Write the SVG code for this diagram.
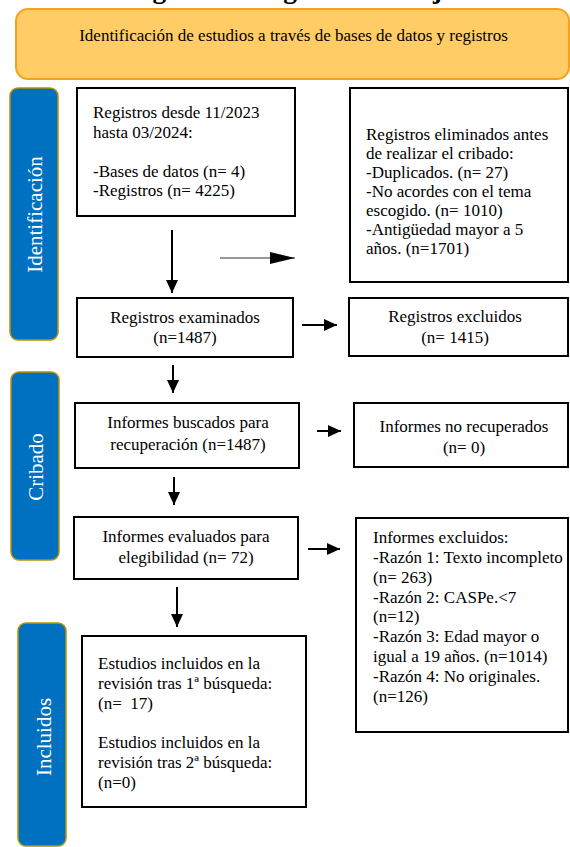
<svg xmlns="http://www.w3.org/2000/svg" width="570" height="847" viewBox="0 0 570 847">
<style>
.t{font-family:"Liberation Serif","Times New Roman",serif;font-size:17px;fill:#000}
.c{text-anchor:middle}
.box{fill:#fff;stroke:#000;stroke-width:2}
.side{fill:#0070C0;stroke:#BF9000;stroke-width:1.5}
.st{font-family:"Liberation Serif","Times New Roman",serif;font-size:21px;fill:#fff;text-anchor:middle}
.ln{stroke:#000;stroke-width:2;fill:none}
</style>
<defs>
<marker id="ah" markerUnits="userSpaceOnUse" markerWidth="13" markerHeight="12" refX="13" refY="6" orient="auto">
<path d="M0,0 L13,6 L0,12 z" fill="#000"/>
</marker>
<marker id="ahl" markerUnits="userSpaceOnUse" markerWidth="25" markerHeight="12" refX="25" refY="6" orient="auto">
<path d="M0,0 L25,6 L0,12 z" fill="#000"/>
</marker>
</defs>
<rect width="570" height="847" fill="#fff"/>
<text class="t c" x="292" y="-2.5" style="font-size:27.5px;font-weight:bold">Figura 1. Diagrama de flujo</text>

<g id="header">
<rect x="16" y="9" width="553" height="70" rx="12" fill="#FFCC66" stroke="#F7A11B" stroke-width="2"/>
<text class="t c" x="293.5" y="41">Identificación de estudios a través de bases de datos y registros</text>
</g>

<g id="side-identificacion">
<rect class="side" x="10" y="88" width="48" height="252" rx="8"/>
<text class="st" transform="translate(42,214.5) rotate(-90)">Identificación</text>
</g>
<g id="side-cribado">
<rect class="side" x="11" y="372" width="48" height="188" rx="8"/>
<text class="st" transform="translate(43,467) rotate(-90)">Cribado</text>
</g>
<g id="side-incluidos">
<rect class="side" x="18" y="623" width="48" height="223" rx="8"/>
<text class="st" transform="translate(51,737) rotate(-90)">Incluidos</text>
</g>

<g id="registros">
<rect class="box" x="77" y="88" width="218" height="128"/>
<text class="t" x="93" y="118">Registros desde 11/2023</text>
<text class="t" x="93" y="137.5">hasta 03/2024:</text>
<text class="t" x="93" y="176.5">-Bases de datos (n= 4)</text>
<text class="t" x="93" y="196">-Registros (n= 4225)</text>
</g>

<g id="eliminados">
<rect class="box" x="350" y="88" width="218" height="194"/>
<text class="t" x="366" y="140">Registros eliminados antes</text>
<text class="t" x="366" y="159">de realizar el cribado:</text>
<text class="t" x="366" y="178">-Duplicados. (n= 27)</text>
<text class="t" x="366" y="197">-No acordes con el tema</text>
<text class="t" x="366" y="216">escogido. (n= 1010)</text>
<text class="t" x="366" y="235">-Antigüedad mayor a 5</text>
<text class="t" x="366" y="254">años. (n=1701)</text>
</g>

<g id="examinados">
<rect class="box" x="77" y="298" width="216" height="59"/>
<text class="t c" x="185" y="323">Registros examinados</text>
<text class="t c" x="185" y="343">(n=1487)</text>
</g>

<g id="excluidos">
<rect class="box" x="349" y="298" width="219" height="58"/>
<text class="t c" x="455" y="322">Registros excluidos</text>
<text class="t c" x="455" y="343">(n= 1415)</text>
</g>

<g id="buscados">
<rect class="box" x="75" y="403" width="224" height="65"/>
<text class="t c" x="188" y="428">Informes buscados para</text>
<text class="t c" x="188" y="450">recuperación (n=1487)</text>
</g>

<g id="no-recuperados">
<rect class="box" x="354" y="403" width="214" height="64"/>
<text class="t c" x="464" y="432">Informes no recuperados</text>
<text class="t c" x="464" y="453">(n= 0)</text>
</g>

<g id="evaluados">
<rect class="box" x="74" y="517" width="224" height="62"/>
<text class="t c" x="186" y="542">Informes evaluados para</text>
<text class="t c" x="186" y="563">elegibilidad (n= 72)</text>
</g>

<g id="informes-excluidos">
<rect class="box" x="356" y="518" width="212" height="214"/>
<text class="t" x="373" y="543">Informes excluidos:</text>
<text class="t" x="373" y="563">-Razón 1: Texto incompleto</text>
<text class="t" x="373" y="583">(n= 263)</text>
<text class="t" x="373" y="603">-Razón 2: CASPe.&lt;7</text>
<text class="t" x="373" y="622">(n=12)</text>
<text class="t" x="373" y="642">-Razón 3: Edad mayor o</text>
<text class="t" x="373" y="662">igual a 19 años. (n=1014)</text>
<text class="t" x="373" y="682">-Razón 4: No originales.</text>
<text class="t" x="373" y="702">(n=126)</text>
</g>

<g id="incluidos">
<rect class="box" x="82" y="636" width="224" height="171"/>
<text class="t" x="98" y="669">Estudios incluidos en la</text>
<text class="t" x="98" y="689">revisión tras 1ª búsqueda:</text>
<text class="t" x="98" y="709" xml:space="preserve">(n=  17)</text>
<text class="t" x="98" y="748">Estudios incluidos en la</text>
<text class="t" x="98" y="768">revisión tras 2ª búsqueda:</text>
<text class="t" x="98" y="788">(n=0)</text>
</g>

<g id="connectors">
<line class="ln" x1="172" y1="230" x2="172" y2="293" marker-end="url(#ah)"/>
<line x1="220" y1="258" x2="295" y2="258" stroke="#767676" stroke-width="1.5" marker-end="url(#ahl)"/>
<line class="ln" x1="302" y1="325" x2="337" y2="325" marker-end="url(#ah)"/>
<line class="ln" x1="173" y1="365" x2="173" y2="393" marker-end="url(#ah)"/>
<line class="ln" x1="317" y1="431" x2="341" y2="431" marker-end="url(#ah)"/>
<line class="ln" x1="174" y1="477" x2="174" y2="505" marker-end="url(#ah)"/>
<line class="ln" x1="308" y1="549" x2="340" y2="549" marker-end="url(#ah)"/>
<line class="ln" x1="177" y1="587" x2="177" y2="627" marker-end="url(#ah)"/>
</g>
</svg>
